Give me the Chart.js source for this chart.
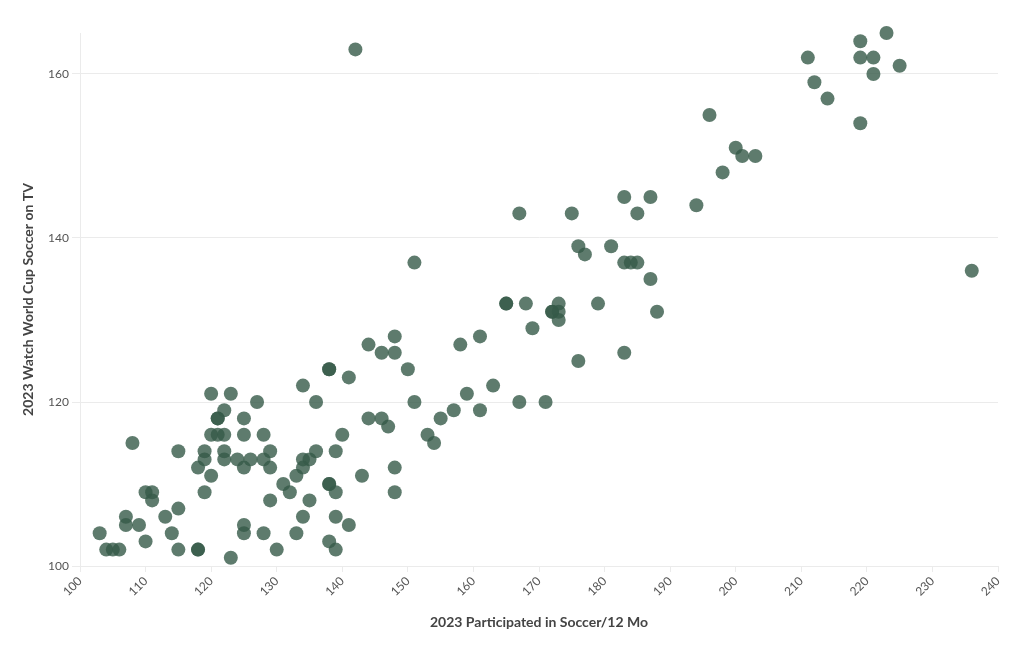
<!DOCTYPE html>
<html>
<head>
<meta charset="utf-8">
<title>Soccer participation vs World Cup viewing</title>
<script src="https://cdn.jsdelivr.net/npm/chart.js@4.4.1/dist/chart.umd.min.js"></script>
<style>
  html, body { margin: 0; padding: 0; background: #fff; }
  #wrap { width: 1020px; height: 650px; }
</style>
</head>
<body>
<div id="wrap"><canvas id="chart" width="1020" height="650"></canvas></div>
<script>
// Market index values
const participated = [
  142, 223, 219, 211, 219, 221, 225, 221, 212, 214, 219, 196, 200, 201, 203, 198,
  194, 183, 187, 185, 167, 175, 176, 181, 177, 183, 184, 185, 187, 236, 151,
  165, 165, 168, 173, 172, 172, 173, 173, 179, 188, 169, 161, 148, 144, 158,
  146, 148, 183, 176, 150, 138, 138, 141, 163, 134, 159, 120, 123, 136, 127,
  151, 167, 171, 122, 157, 161, 121, 121, 125, 144, 146, 155, 147, 120, 121,
  122, 125, 128, 140, 153, 154, 108, 115, 119, 122, 129, 136, 139, 119, 122,
  124, 126, 128, 134, 135, 118, 125, 129, 134, 148, 120, 133, 143, 131, 138,
  138, 110, 111, 119, 132, 139, 148, 111, 129, 135, 115, 107, 113, 134, 139,
  107, 109, 125, 141, 103, 114, 125, 128, 133, 110, 138, 104, 105, 106, 115,
  118, 118, 130, 139, 123
];
const watchedTV = [
  163, 165, 164, 162, 162, 162, 161, 160, 159, 157, 154, 155, 151, 150, 150, 148,
  144, 145, 145, 143, 143, 143, 139, 139, 138, 137, 137, 137, 135, 136, 137,
  132, 132, 132, 132, 131, 131, 131, 130, 132, 131, 129, 128, 128, 127, 127,
  126, 126, 126, 125, 124, 124, 124, 123, 122, 122, 121, 121, 121, 120, 120,
  120, 120, 120, 119, 119, 119, 118, 118, 118, 118, 118, 118, 117, 116, 116,
  116, 116, 116, 116, 116, 115, 115, 114, 114, 114, 114, 114, 114, 113, 113,
  113, 113, 113, 113, 113, 112, 112, 112, 112, 112, 111, 111, 111, 110, 110,
  110, 109, 109, 109, 109, 109, 109, 108, 108, 108, 107, 106, 106, 106, 106,
  105, 105, 105, 105, 104, 104, 104, 104, 104, 103, 103, 102, 102, 102, 102,
  102, 102, 102, 102, 101
];
const xTicks = [100, 110, 120, 130, 140, 150, 160, 170, 180, 190, 200, 210, 220, 230, 240];
const yTicks = [100, 120, 140, 160];

const points = participated.map((x, i) => ({ x: x, y: watchedTV[i] }));

const fontFamily = "Lato, 'Open Sans', 'Noto Sans', sans-serif";
const gridColor = '#ebebeb';

new Chart(document.getElementById('chart').getContext('2d'), {
  type: 'scatter',
  data: {
    datasets: [{
      data: points,
      backgroundColor: 'rgba(54, 90, 73, 0.8)',
      borderWidth: 0,
      pointRadius: 7,
      pointHoverRadius: 7,
      clip: false
    }]
  },
  options: {
    responsive: false,
    animation: false,
    layout: { padding: { top: 33, right: 22, bottom: 0, left: 0 } },
    plugins: {
      legend: { display: false },
      tooltip: { enabled: false }
    },
    scales: {
      x: {
        type: 'linear',
        min: xTicks[0],
        max: xTicks[xTicks.length - 1],
        afterFit: (s) => { s.height = 84; },
        afterBuildTicks: (s) => { s.ticks = xTicks.map(v => ({ value: v })); },
        grid: { drawOnChartArea: false, drawTicks: true, tickLength: 6, color: gridColor },
        border: { display: true, color: gridColor },
        ticks: {
          minRotation: 45,
          maxRotation: 45,
          padding: 2,
          color: '#555',
          font: { family: fontFamily, size: 12 }
        },
        title: {
          display: true,
          text: '2023 Participated in Soccer/12 Mo',
          color: '#444',
          font: { family: fontFamily, size: 14, weight: 'bold' },
          padding: { top: 0, bottom: 19 }
        }
      },
      y: {
        type: 'linear',
        min: 100,
        max: 165,
        afterFit: (s) => { s.width = 80; },
        afterBuildTicks: (s) => { s.ticks = yTicks.map(v => ({ value: v })); },
        grid: { color: gridColor, tickLength: 8 },
        border: { display: true, color: gridColor },
        ticks: {
          padding: 3,
          color: '#555',
          font: { family: fontFamily, size: 12 }
        },
        title: {
          display: true,
          text: '2023 Watch World Cup Soccer on TV',
          color: '#444',
          font: { family: fontFamily, size: 14, weight: 'bold' },
          padding: { top: 20, bottom: 0 }
        }
      }
    }
  }
});
</script>
</body>
</html>
